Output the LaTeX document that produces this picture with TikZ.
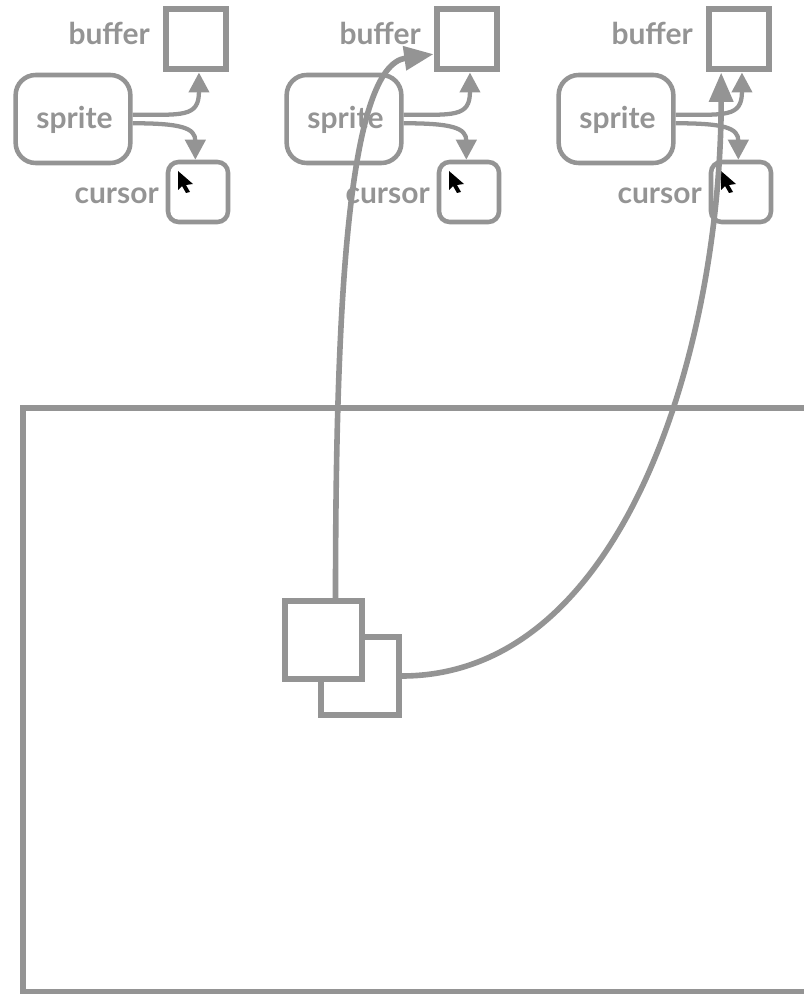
\documentclass[tikz,border=0pt]{standalone}
\usepackage{fontspec}
\setmainfont{Lato}
\usetikzlibrary{arrows.meta}
\definecolor{ashgray}{gray}{0.58}
\tikzset{
  box/.style={draw=ashgray,line width=4.5pt,fill=white,inner sep=0pt},
  roundbox/.style={box,line width=3.4pt},
  lbl/.style={text=ashgray,font=\bfseries\fontsize{22.5}{22.5}\selectfont,inner sep=0pt},
  link/.style={draw=ashgray,line width=3.2pt,-{Triangle[length=15pt,width=15pt]}},
  biglink/.style={draw=ashgray,line width=4.2pt,-{Triangle[length=22pt,width=17.5pt]}}
}
\begin{document}
\begin{tikzpicture}[x=0.75pt,y=-0.75pt]
  \useasboundingbox (0,0) rectangle (803,994);
  \draw[ashgray,line width=4.5pt] (830,408)--(23,408)--(23,991.5)--(830,991.5);
  \foreach \g/\dx in {a/0,b/271,c/543} {
    \begin{scope}[xshift=\dx*0.75pt]
      \node[box,minimum size=45pt] (buffer\g) at (195.5,39.5) {};
      \node[roundbox,rounded corners=15pt,minimum width=86pt,minimum height=66pt] (sprite\g) at (73,119) {};
      \node[roundbox,rounded corners=8pt,minimum size=45pt] (cursor\g) at (198,192) {};
      \node[lbl,anchor=base east] at (150,45) {buffer};
      \node[lbl,anchor=base east] at (159,204) {cursor};
      \node[lbl] at (74.5,120) {sprite};
      \fill[black] (178,171)--(193,184)--(186,185)--(190,192)--(186,193)--(182,186)--(178,190)--cycle;
      \draw[link] ([yshift=3.2pt]sprite\g.east) .. controls +(50,0) and +(0,45) .. ([xshift=2.6pt]buffer\g.south);
      \draw[link] ([yshift=-3.2pt]sprite\g.east) .. controls +(48,0) and +(0,-32) .. ([xshift=-2pt]cursor\g.north);
    \end{scope}
  }
  \node[box,minimum size=58pt] (backsq) at (360,676) {};
  \node[box,minimum size=58pt] (frontsq) at (323.5,640) {};
  \draw[biglink] ([xshift=9pt]frontsq.north) .. controls +(0,-300) and +(-85,12) .. ([yshift=-11pt]bufferb.west);
  \draw[biglink] (backsq.east) .. controls +(225,0) and +(0,270) .. ([xshift=-13pt]bufferc.south);
\end{tikzpicture}
\end{document}
